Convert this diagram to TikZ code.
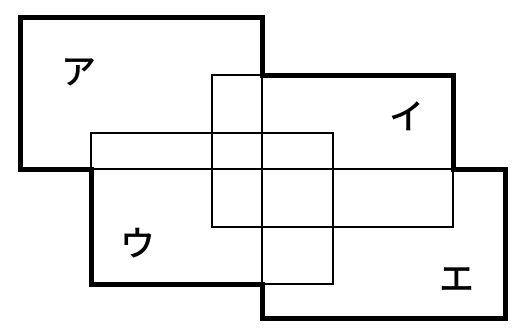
\documentclass[tikz,border=0pt]{standalone}
\usepackage{fontspec}
\newfontfamily\jpfont{Noto Sans CJK JP}[BoldFont={Noto Sans CJK JP Medium}]
\begin{document}
\begin{tikzpicture}[x=1bp,y=-1bp,
  thinbox/.style={draw=black,line width=1.8bp},
  outline/.style={draw=black,line width=5bp,line join=miter},
  lbl/.style={font=\jpfont\bfseries\fontsize{35bp}{35bp}\selectfont,inner sep=0pt}]
\useasboundingbox (0,0) rectangle (517,327);
% four rectangles
\draw[thinbox] (20,17) rectangle (262,169);
\draw[thinbox] (212,75) rectangle (453,227);
\draw[thinbox] (91,133) rectangle (333,284);
\draw[thinbox] (262,169) rectangle (505,318);
% union outline
\draw[outline] (20,17) -- (262,17) -- (262,75) -- (453,75) -- (453,169) -- (505,169)
  -- (505,318) -- (262,318) -- (262,284) -- (91,284) -- (91,169) -- (20,169) -- cycle;
% labels
\node[lbl] (a) at (79,72) {ア};
\node[lbl] (i) at (407,116) {イ};
\node[lbl] (u) at (138,243) {ウ};
\node[lbl] (e) at (457,280) {エ};
\end{tikzpicture}
\end{document}
